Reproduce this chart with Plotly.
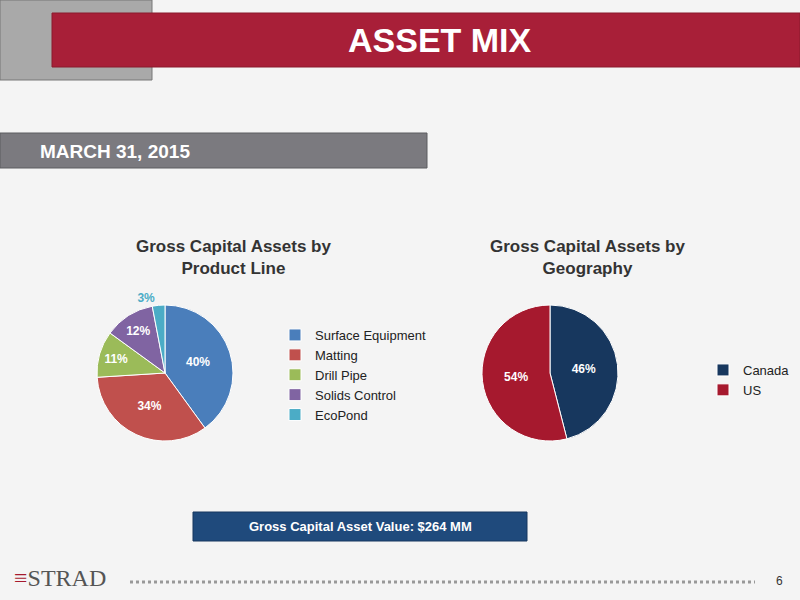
import plotly.graph_objects as go

# data
product_lines = ["Surface Equipment", "Matting", "Drill Pipe", "Solids Control", "EcoPond"]
product_pct = [40, 34, 11, 12, 3]
regions = ["Canada", "US"]
region_pct = [46, 54]

product_colors = ["#4a7ebb", "#c0504d", "#9bbb59", "#8064a2", "#4bacc6"]
region_colors = ["#17375e", "#a6192e"]

W, H = 800, 600


def px(x0, y0, x1, y1):
    # pixel box -> paper domain
    return dict(x=[x0 / W, x1 / W], y=[1 - y1 / H, 1 - y0 / H])


fig = go.Figure()

fig.add_trace(go.Pie(
    labels=product_lines, values=product_pct, sort=False, direction="clockwise",
    marker=dict(colors=product_colors, line=dict(color="white", width=1)),
    texttemplate="<b>%{value}%</b>",
    textposition=["inside", "inside", "inside", "inside", "outside"],
    insidetextorientation="horizontal",
    textfont=dict(family="Liberation Sans", size=12, color="white"),
    outsidetextfont=dict(family="Liberation Sans", size=12, color="#4bacc6"),
    domain=px(97, 305, 233, 441), legend="legend", hoverinfo="label+percent",
))

fig.add_trace(go.Pie(
    labels=regions, values=region_pct, sort=False, direction="clockwise",
    marker=dict(colors=region_colors, line=dict(color="white", width=1)),
    texttemplate="<b>%{value}%</b>", textposition="inside", insidetextorientation="horizontal",
    textfont=dict(family="Liberation Sans", size=12, color="white"),
    domain=px(482, 305, 618, 441), legend="legend2", hoverinfo="label+percent",
))

shapes = [
    # metal block and red title bar
    dict(type="rect", x0=0, x1=152, y0=0, y1=80, fillcolor="#a9a9a9", line=dict(color="#777", width=1)),
    dict(type="rect", x0=52, x1=800, y0=13, y1=67, fillcolor="#a81f38", line=dict(color="#8a1a2c", width=1)),
    # date bar
    dict(type="rect", x0=0, x1=427, y0=133, y1=168, fillcolor="#7b7a7f", line=dict(color="#5d5d60", width=1)),
    # value box
    dict(type="rect", x0=193, x1=527, y0=512, y1=541, fillcolor="#1f4a7c", line=dict(color="#16375e", width=1)),
    # footer dotted line
    dict(type="line", x0=130, x1=755, y0=582, y1=582, line=dict(color="#999", width=3, dash="dot")),
]
for s in shapes:
    s.update(xref="paper", yref="paper", layer="below")
    s["x0"], s["x1"] = s["x0"] / W, s["x1"] / W
    s["y0"], s["y1"] = 1 - s["y0"] / H, 1 - s["y1"] / H

font = "Liberation Sans"
annotations = [
    dict(x=440, y=40, text="<b>ASSET MIX</b>", size=34, color="white"),
    dict(x=38, y=151, text="<b>MARCH 31, 2015</b>", size=19, color="white", xanchor="left"),
    dict(x=233, y=258, text="<b>Gross Capital Assets by<br>Product Line</b>", size=17, color="#333"),
    dict(x=587, y=258, text="<b>Gross Capital Assets by<br>Geography</b>", size=17, color="#333"),
    dict(x=360, y=526, text="<b>Gross Capital Asset Value: $264 MM</b>", size=13, color="white"),
    dict(x=12, y=578, text="<span style='color:#a6192e'>≡</span>STRAD", size=24, color="#555",
         xanchor="left", family="Liberation Serif"),
    dict(x=785, y=581, text="6", size=12, color="#333", xanchor="right"),
]
fig.update_layout(annotations=[
    dict(x=a["x"] / W, y=1 - a["y"] / H, xref="paper", yref="paper", text=a["text"], showarrow=False,
         xanchor=a.get("xanchor", "center"), yanchor="middle",
         font=dict(family=a.get("family", font), size=a["size"], color=a["color"]))
    for a in annotations
])

fig.update_layout(
    width=W, height=H, margin=dict(l=0, r=0, t=0, b=0),
    paper_bgcolor="#f4f4f4", plot_bgcolor="#f4f4f4",
    shapes=shapes,
    legend=dict(x=275 / W, y=1 - 320 / H, xanchor="left", yanchor="top",
                font=dict(family=font, size=13, color="#222"), itemwidth=30,
                bgcolor="rgba(0,0,0,0)", tracegroupgap=0),
    legend2=dict(x=703 / W, y=1 - 355 / H, xanchor="left", yanchor="top",
                 font=dict(family=font, size=13, color="#222"), itemwidth=30,
                 bgcolor="rgba(0,0,0,0)"),
)

fig.write_html("out.html", config={"displayModeBar": False},
               post_script="document.body.style.margin='0';")
